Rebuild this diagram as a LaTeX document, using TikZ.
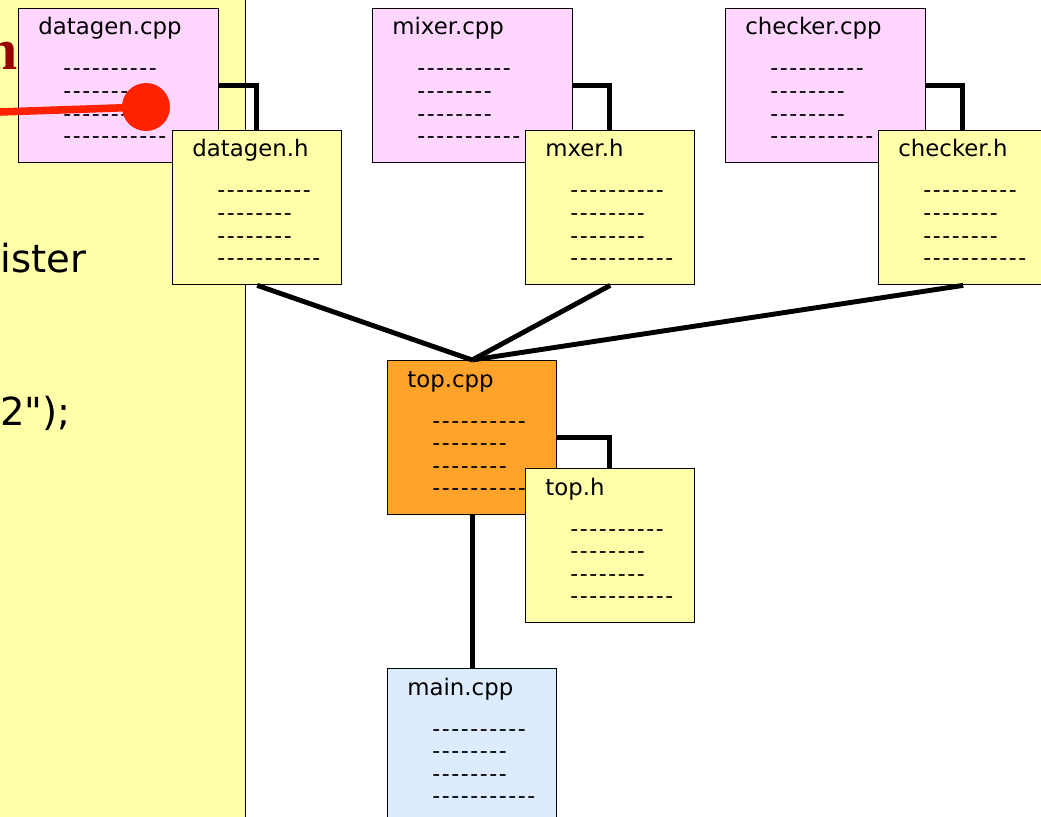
\documentclass[tikz,border=0pt]{standalone}
\usepackage{fontspec}
\setmainfont[Ligatures=TeXOff]{DejaVu Sans}
\newfontfamily\boldserif[Ligatures=TeXOff]{Liberation Serif}
\newfontfamily\dashfont[Ligatures=TeXOff, LetterSpace=7.2]{DejaVu Sans}

\definecolor{panelyellow}{RGB}{255,255,170}
\definecolor{srcpink}{RGB}{255,214,255}
\definecolor{hdryellow}{RGB}{255,255,170}
\definecolor{toporange}{RGB}{255,163,43}
\definecolor{mainblue}{RGB}{221,235,255}
\definecolor{pinred}{RGB}{255,34,0}
\definecolor{kwred}{RGB}{153,0,0}

\tikzset{
  filebox/.style={draw=black, line width=0.8pt, rectangle, anchor=north west,
    inner sep=0pt, minimum height=3.08cm},
  cppfile/.style={filebox, fill=srcpink},
  hfile/.style={filebox, fill=hdryellow},
  topfile/.style={filebox, fill=toporange},
  mainfile/.style={filebox, fill=mainblue},
  titletext/.style={anchor=base west, inner sep=0pt, font=\fontsize{13}{15}\selectfont},
  dashtext/.style={anchor=base west, inner sep=0pt, font=\dashfont\fontsize{12.5}{13}\selectfont},
  link/.style={line width=2.8pt, line join=miter},
  paneltext/.style={anchor=base west, inner sep=0pt, font=\fontsize{22}{25}\selectfont},
}

% one source file: name, x, y, width (px), style, title
\newcommand\srcfile[6]{%
  \node[#5, minimum width=#4*0.02cm] (#1) at (#2,#3) {};
  \node[titletext] (#1-title) at ([shift={(20,27)}]#1.north west) {#6};
  \foreach \row/\txt in {0/----------,1/--------,2/--------,3/-----------}
    \node[dashtext] (#1-l\row) at ([shift={(45,68+22.6*\row)}]#1.north west) {\txt};
}

\begin{document}
\begin{tikzpicture}[x=0.02cm, y=-0.02cm]
  \clip (0,0) rectangle (1041,817);
  \fill[white] (0,0) rectangle (1041,817);

  % code panel on the left
  \node[draw=black, line width=0.8pt, fill=panelyellow, anchor=north west,
        inner sep=0pt, minimum width=5cm, minimum height=16.8cm] (panel) at (-5,-10) {};
  \node[anchor=base west, inner sep=0pt, text=kwred,
        font=\boldserif\bfseries\fontsize{33}{35}\selectfont] (kw) at (-31,70) {m};
  \node[paneltext] (reg) at (0,273) {ister};
  \node[paneltext] (arg) at (0,425) {2");};

  % implementation files
  \srcfile{dgcpp}{18}{8}{200}{cppfile}{datagen.cpp}
  \srcfile{mxcpp}{372}{8}{200}{cppfile}{mixer.cpp}
  \srcfile{ckcpp}{725}{8}{200}{cppfile}{checker.cpp}

  % headers
  \coordinate (dgh-n) at (256.5,130);
  \coordinate (mxh-n) at (609.5,130);
  \coordinate (ckh-n) at (962.5,130);
  \draw[link] (dgcpp.east) -| (dgh-n);
  \draw[link] (mxcpp.east) -| (mxh-n);
  \draw[link] (ckcpp.east) -| (ckh-n);

  \srcfile{dgh}{172}{130}{169}{hfile}{datagen.h}
  \srcfile{mxh}{525}{130}{169}{hfile}{mxer.h}
  \srcfile{ckh}{878}{130}{169}{hfile}{checker.h}

  % pointer into datagen.cpp
  \coordinate (pinstart) at (0,112);
  \node[circle, fill=pinred, inner sep=0pt, minimum size=0.96cm] (pin) at (146,107) {};
  \draw[pinred, line width=4.3pt] (pinstart) -- (pin.center);

  % top level
  \srcfile{topcpp}{387}{360}{169}{topfile}{top.cpp}
  \draw[link] (dgh.south) -- (topcpp.north);
  \draw[link] (mxh.south) -- (topcpp.north);
  \draw[link] (ckh.south) -- (topcpp.north);

  \coordinate (toph-n) at (609.5,468);
  \draw[link] (topcpp.east) -| (toph-n);
  \srcfile{toph}{525}{468}{169}{hfile}{top.h}

  \srcfile{maincpp}{387}{668}{169}{mainfile}{main.cpp}
  \draw[link] (topcpp.south) -- (maincpp.north);
\end{tikzpicture}
\end{document}
